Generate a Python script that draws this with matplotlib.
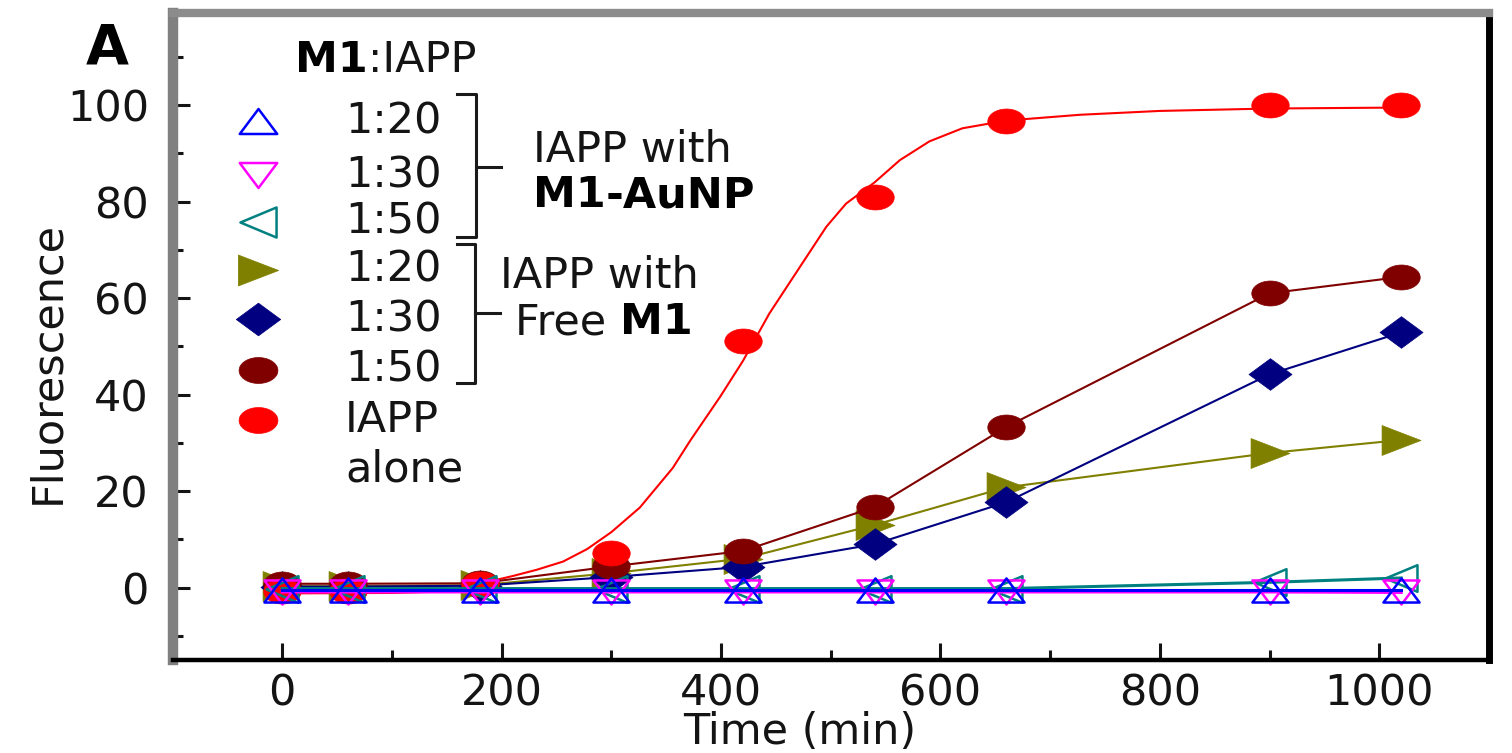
import matplotlib

matplotlib.use("Agg")
import matplotlib.pyplot as plt  # noqa: E402
import numpy as np  # noqa: E402
from matplotlib.lines import Line2D  # noqa: E402
from matplotlib.path import Path  # noqa: E402

W, H, DPI = 1512, 753, 100

# ---- data ----
TIME = [0, 60, 180, 300, 420, 540, 660, 900, 1020]

AUNP_1_20 = [-0.5, -0.5, -0.5, -0.5, -0.5, -0.5, -0.5, -0.5, -0.5]
AUNP_1_30 = [-0.9, -0.9, -0.9, -0.9, -0.9, -0.9, -0.9, -0.9, -1.0]
AUNP_1_50 = [-0.2, -0.2, -0.2, -0.2, -0.2, -0.2, -0.2, 1.1, 2.0]

FREE_1_20 = [0.3, 0.3, 0.5, 3.0, 6.0, 13.0, 20.8, 27.9, 30.6]
FREE_1_30 = [0.2, 0.2, 0.4, 2.2, 4.3, 9.0, 17.7, 44.2, 52.9]
FREE_1_50 = [0.8, 0.8, 0.9, 4.4, 7.6, 16.7, 33.3, 61.0, 64.4]

IAPP_ALONE = [-0.8, -0.8, 0.8, 7.1, 51.1, 80.9, 96.7, 100.0, 100.1]

# fitted sigmoid drawn through the IAPP-alone points (sampled from the figure)
FIT_X = [0, 100, 150, 180, 210, 232, 256, 278, 300, 326, 356, 372, 399, 420,
         444, 472, 496, 514, 540, 563, 590, 620, 660, 727, 800, 900, 1020]
FIT_Y = [-1.2, -1.1, -0.8, 0.8, 2.4, 3.7, 5.4, 8.0, 11.5, 16.6, 24.8, 30.5,
         39.5, 47.0, 56.8, 66.5, 74.8, 79.6, 84.0, 88.6, 92.5, 95.2, 96.8,
         98.0, 98.8, 99.3, 99.5]

Y_TICKS = [0, 20, 40, 60, 80, 100]
X_TICKS = [0, 200, 400, 600, 800, 1000]

INK = "#141414"
FONT = "DejaVu Sans"
FS = 31

plt.rcParams["font.family"] = [FONT]


def stretched(verts, sx):
    """Marker path widened horizontally (the reference image is stretched)."""
    v = np.asarray(verts, float) * [sx, 1.0]
    codes = [Path.MOVETO] + [Path.LINETO] * (len(v) - 2) + [Path.CLOSEPOLY]
    return Path(v, codes)


_t = np.linspace(0, 2 * np.pi, 41)
CIRCLE = stretched(np.c_[np.cos(_t), np.sin(_t)], 1.5)
DIAMOND = stretched([(0, -1), (1, 0), (0, 1), (-1, 0), (0, -1)], 1.36)
TRI_UP = stretched([(0, 1), (-1, -1), (1, -1), (0, 1)], 1.5)
TRI_DOWN = stretched([(0, -1), (-1, 1), (1, 1), (0, -1)], 1.5)
TRI_LEFT = stretched([(-1, 0), (1, 1), (1, -1), (-1, 0)], 1.2)
TRI_RIGHT = stretched([(1, 0), (-1, 1), (-1, -1), (1, 0)], 1.3)

# (values, colour, marker, size, open?)
SERIES = [
    (FREE_1_20, "#808000", TRI_RIGHT, 28, False),
    (FREE_1_30, "#000080", DIAMOND, 31, False),
    (FREE_1_50, "#800000", CIRCLE, 27, False),
    (IAPP_ALONE, "#ff0000", CIRCLE, 27, False),
    (AUNP_1_50, "#008080", TRI_LEFT, 23, True),
    (AUNP_1_30, "#ff00ff", TRI_DOWN, 26, True),
    (AUNP_1_20, "#0000ff", TRI_UP, 26, True),
]

fig = plt.figure(figsize=(W / DPI, H / DPI), dpi=DPI)
ax = fig.add_axes([172.5 / W, 1 - 660 / H, (1489 - 172.5) / W, (660 - 12.5) / H])

ax.plot(FIT_X, FIT_Y, color="#ff0000", lw=1.5, zorder=2)
for i, (vals, col, mk, ms, hollow) in enumerate(SERIES):
    is_fit = vals is IAPP_ALONE
    ax.plot(TIME, vals, color=col, lw=0 if is_fit else (2.2 if hollow else 1.5),
            marker=mk, ms=ms, mec=col, mew=1.8 if hollow else 0.5,
            mfc="none" if hollow else col, zorder=3 + i)

ax.set_xlim(-100, 1100)
ax.set_ylim(-15, 119.2)
ax.set_xticks(X_TICKS)
ax.set_xticks([100, 300, 500, 700, 900], minor=True)
ax.set_yticks(Y_TICKS)
ax.set_yticks([-10, 10, 30, 50, 70, 90, 110], minor=True)
ax.tick_params(which="both", direction="in", colors=INK, width=2.2,
               labelsize=FS, top=False, right=False)
ax.tick_params(which="major", length=12)
ax.tick_params(which="minor", length=7.5)
ax.tick_params(axis="y", pad=17)
ax.tick_params(axis="x", pad=9)

ax.spines["left"].set_color("#808080")
ax.spines["left"].set_linewidth(7.5)
ax.spines["top"].set_color("#8c8c8c")
ax.spines["top"].set_linewidth(6)
ax.spines["right"].set_color("black")
ax.spines["right"].set_linewidth(5)
ax.spines["bottom"].set_color("black")
ax.spines["bottom"].set_linewidth(3.2)

ax.set_xlabel("Time (min)", fontsize=FS, color=INK)
ax.xaxis.set_label_coords((800 - 172.5) / 1316.5, (660 - 711) / 647.5)
ax.set_ylabel("Fluorescence", fontsize=FS, color=INK)
ax.yaxis.set_label_coords((68 - 172.5) / 1316.5, (660 - 362) / 647.5)


# ---- hand-placed key, in figure pixels ----
def fx(x):
    return x / W


def fy(y):
    return 1 - y / H


fig.text(fx(107), fy(48), "A", fontsize=40, fontweight="bold", color="black",
         ha="center", va="center")
t1 = fig.text(fx(295), fy(60), "M1", fontsize=FS, fontweight="bold",
              color="black", ha="left", va="center")
fig.canvas.draw()
bb = t1.get_window_extent()
fig.text(bb.x1 / W, fy(60), ":IAPP", fontsize=FS, color=INK, ha="left",
         va="center")

KEY_ROWS = [
    (121, "#0000ff", TRI_UP, 27, True, "1:20"),
    (175, "#ff00ff", TRI_DOWN, 27, True, "1:30"),
    (222, "#008080", TRI_LEFT, 26, True, "1:50"),
    (270, "#808000", TRI_RIGHT, 29, False, "1:20"),
    (319, "#000080", DIAMOND, 32, False, "1:30"),
    (370, "#800000", CIRCLE, 28, False, "1:50"),
    (420, "#ff0000", CIRCLE, 28, False, "IAPP"),
]
for y, col, mk, ms, hollow, lab in KEY_ROWS:
    fig.add_artist(Line2D([fx(258)], [fy(y)], marker=mk, ms=ms, mec=col,
                          mfc="none" if hollow else col,
                          mew=1.8 if hollow else 0.5, lw=0,
                          transform=fig.transFigure))
    fig.text(fx(345), fy(y), lab, fontsize=FS, color=INK, ha="left",
             va="center")
fig.text(fx(345), fy(470), "alone", fontsize=FS, color=INK, ha="left",
         va="center")

# brackets
BR = dict(color="#1a1a1a", lw=2.2, transform=fig.transFigure)
fig.add_artist(Line2D([fx(457), fx(476), fx(476), fx(457)],
                      [fy(94), fy(94), fy(237), fy(237)], **BR))
fig.add_artist(Line2D([fx(476), fx(501)], [fy(167), fy(167)], **BR))
fig.add_artist(Line2D([fx(457), fx(475), fx(475), fx(457)],
                      [fy(244), fy(244), fy(383), fy(383)], **BR))
fig.add_artist(Line2D([fx(475), fx(500)], [fy(313), fy(313)], **BR))

fig.text(fx(533), fy(150), "IAPP with", fontsize=FS, color=INK, ha="left",
         va="center")
t2 = fig.text(fx(533), fy(195), "M1", fontsize=FS, fontweight="bold",
              color="black", ha="left", va="center")
fig.canvas.draw()
fig.text(t2.get_window_extent().x1 / W, fy(195), "-AuNP", fontsize=FS,
         fontweight="bold", color="black", ha="left", va="center")

fig.text(fx(500), fy(276), "IAPP with", fontsize=FS, color=INK, ha="left",
         va="center")
t3 = fig.text(fx(515), fy(322), "Free ", fontsize=FS, color=INK, ha="left",
              va="center")
fig.canvas.draw()
fig.text(t3.get_window_extent().x1 / W, fy(322), "M1", fontsize=FS,
         fontweight="bold", color="black", ha="left", va="center")

fig.savefig("out.png", dpi=DPI, facecolor="white")
